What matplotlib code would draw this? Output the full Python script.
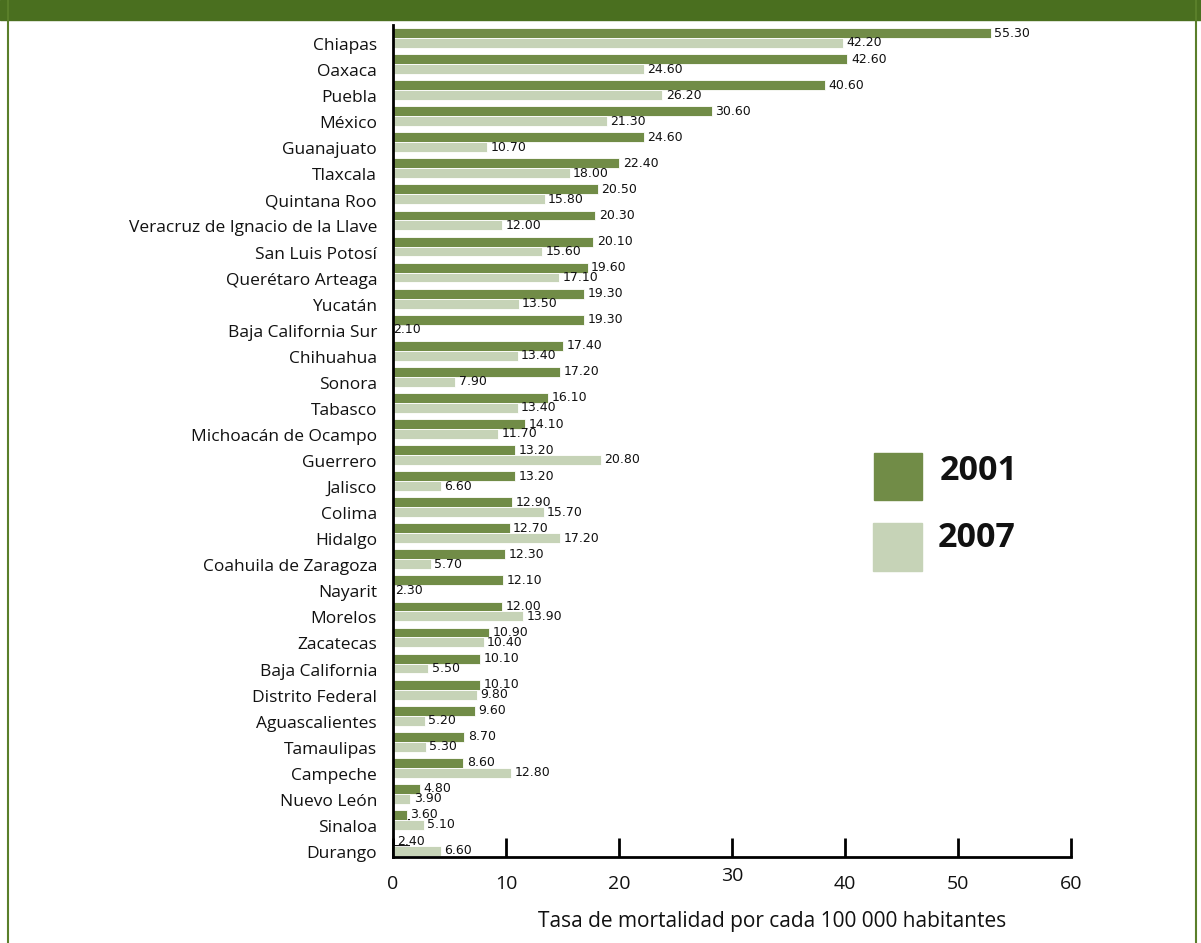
import matplotlib
matplotlib.use("Agg")
import matplotlib.pyplot as plt
from matplotlib.patches import Rectangle
from matplotlib.lines import Line2D
import numpy as np

states = ["Chiapas", "Oaxaca", "Puebla", "México", "Guanajuato", "Tlaxcala",
          "Quintana Roo", "Veracruz de Ignacio de la Llave", "San Luis Potosí",
          "Querétaro Arteaga", "Yucatán", "Baja California Sur", "Chihuahua",
          "Sonora", "Tabasco", "Michoacán de Ocampo", "Guerrero", "Jalisco",
          "Colima", "Hidalgo", "Coahuila de Zaragoza", "Nayarit", "Morelos",
          "Zacatecas", "Baja California", "Distrito Federal", "Aguascalientes",
          "Tamaulipas", "Campeche", "Nuevo León", "Sinaloa", "Durango"]
v2001 = [55.30, 42.60, 40.60, 30.60, 24.60, 22.40, 20.50, 20.30, 20.10, 19.60,
         19.30, 19.30, 17.40, 17.20, 16.10, 14.10, 13.20, 13.20, 12.90, 12.70,
         12.30, 12.10, 12.00, 10.90, 10.10, 10.10, 9.60, 8.70, 8.60, 4.80,
         3.60, 2.40]
v2007 = [42.20, 24.60, 26.20, 21.30, 10.70, 18.00, 15.80, 12.00, 15.60, 17.10,
         13.50, 2.10, 13.40, 7.90, 13.40, 11.70, 20.80, 6.60, 15.70, 17.20,
         5.70, 2.30, 13.90, 10.40, 5.50, 9.80, 5.20, 5.30, 12.80, 3.90,
         5.10, 6.60]
series_names = ["2001", "2007"]
colors = ["#718c47", "#c6d3b7"]
xticks = [0, 10, 20, 30, 40, 50, 60]
xlabel = "Tasa de mortalidad por cada 100 000 habitantes"

# the original graphic draws its bars shifted left of the axis origin
BAR_SHIFT = 2.38

W, H = 1201, 943
fig = plt.figure(figsize=(W / 100, H / 100), dpi=100)
fig.patch.set_facecolor("white")

# header band and side borders
fig.patches.append(Rectangle((0, (H - 20) / H), 1, 20 / H, transform=fig.transFigure,
                             color="#4a6f1f", zorder=0))
fig.lines.append(Line2D([8 / W, 8 / W], [0, 1], transform=fig.transFigure,
                        color="#5a7f2a", lw=1.5))
fig.lines.append(Line2D([1196 / W, 1196 / W], [0, 1], transform=fig.transFigure,
                        color="#5a7f2a", lw=1.5))

left, right, top, bottom = 393, 1071, 25, 857
ax = fig.add_axes([left / W, (H - bottom) / H, (right - left) / W, (bottom - top) / H])

n = len(states)
y = np.arange(n)
h = 0.38
vals = [np.array(v2001), np.array(v2007)]
offs = [-h / 2, h / 2]
for vals_s, off, c in zip(vals, offs, colors):
    ax.barh(y + off, vals_s, left=-BAR_SHIFT, height=h, color=c,
            edgecolor="white", linewidth=0.6, zorder=2)
    for yi, v in zip(y, vals_s):
        ax.annotate(f"{v:.2f}", xy=(v - BAR_SHIFT, yi + off), xytext=(2.5, 0),
                    textcoords="offset points", ha="left", va="center",
                    fontsize=9, family="DejaVu Sans", color="#111111",
                    annotation_clip=False, zorder=3)

ax.set_xlim(0, 60)
ax.set_ylim(31 + 11 / 26.06, -13 / 26.06)

for s in ["top", "right"]:
    ax.spines[s].set_visible(False)
for s in ["left", "bottom"]:
    ax.spines[s].set_linewidth(2)
    ax.spines[s].set_color("black")
    ax.spines[s].set_zorder(4)

# category labels (major, no marks) and marks at group centres (minor)
ax.set_yticks(y + 6 / 26.06)
ax.set_yticklabels(states, family="Open Sans", fontsize=12.5, color="#111111")
ax.tick_params(axis="y", which="major", length=0, pad=11.5)
ax.set_yticks(y, minor=True)
ax.tick_params(axis="y", which="minor", direction="in", length=12, width=1.3,
               color="black")

ax.set_xticks(xticks)
ax.set_xticklabels([str(t) for t in xticks], family="Open Sans", fontsize=14,
                   color="#111111")
ax.tick_params(axis="x", direction="in", length=14, width=2, pad=13, color="black")
for i, tk in enumerate(ax.xaxis.get_major_ticks()):
    if xticks[i] == 30:
        tk.set_pad(7.5)
ax.set_axisbelow(True)

fig.text(772 / W, (H - 922) / H, xlabel, ha="center", va="center",
         family="Open Sans", fontsize=15, color="#111111")

# legend
leg = [(874, 453, 48, 47, 940, 471), (873, 523, 49, 48, 938, 538)]
for (x0, y0, w, hh, tx, ty), c, name in zip(leg, colors, series_names):
    fig.patches.append(Rectangle((x0 / W, (H - y0 - hh) / H), w / W, hh / H,
                                 transform=fig.transFigure, color=c, zorder=3))
    fig.text(tx / W, (H - ty) / H, name, ha="left", va="center",
             family="Open Sans", fontweight="bold", fontsize=24.5, color="#111111")

fig.savefig("out.png", dpi=100)
